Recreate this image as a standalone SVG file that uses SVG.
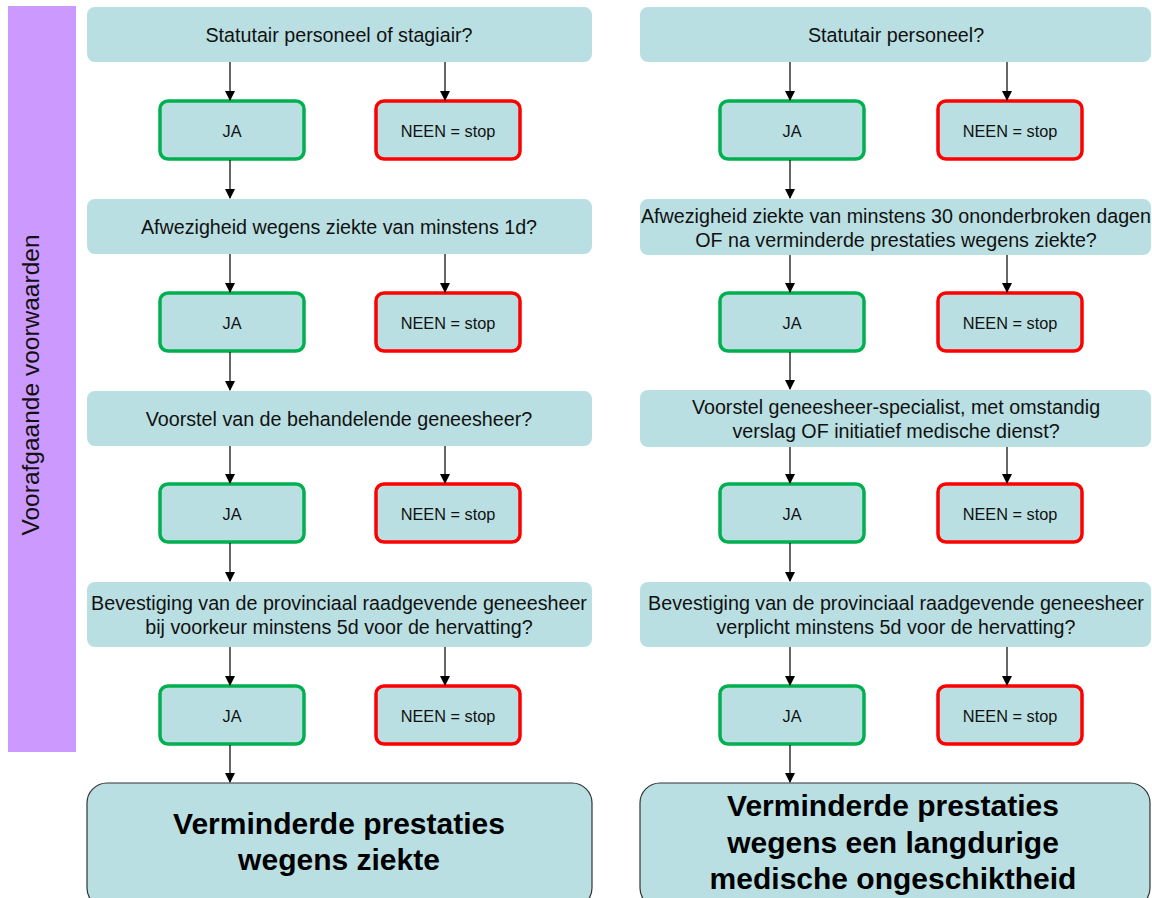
<svg xmlns="http://www.w3.org/2000/svg" width="1152" height="898" viewBox="0 0 1152 898">
<style>
.q{fill:#b9dfe2;}
.ja{fill:#b9dfe2;stroke:#00b050;stroke-width:3.5;}
.nee{fill:#b9dfe2;stroke:#ff0000;stroke-width:3.5;}
.fin{fill:#b9dfe2;stroke:#333;stroke-width:1.2;}
text{font-family:"Liberation Sans",Arial,sans-serif;fill:#111;text-anchor:middle;}
.tq{font-size:19.7px;}
.ts{font-size:16.3px;}
.tf{font-size:30px;font-weight:bold;fill:#000;}
.tv{font-size:24.5px;}
.c line{stroke:#000;stroke-width:1.2;marker-end:url(#ah);}
</style>
<defs>
<marker id="ah" markerWidth="10" markerHeight="10" refX="9" refY="5" orient="auto" markerUnits="userSpaceOnUse">
<path d="M0,0 L10,5 L0,10 Z" fill="#000"/>
</marker>
</defs>
<rect width="1152" height="898" fill="#fff"/>
<g id="side">
<rect x="8" y="6" width="68" height="746" fill="#cc99ff"/>
<text class="tv" transform="translate(30,385) rotate(-90)" dy="0.35em">Voorafgaande voorwaarden</text>
</g>

<!-- left column -->
<g id="L-q1"><rect class="q" x="87" y="7" width="505" height="55" rx="8"/><text class="tq" x="339" y="42">Statutair personeel of stagiair?</text></g>
<g id="L-ja1"><rect class="ja" x="160" y="101" width="144" height="58" rx="8"/><text class="ts" x="232" y="137">JA</text></g>
<g id="L-nee1"><rect class="nee" x="376" y="101" width="144" height="58" rx="8"/><text class="ts" x="448" y="137">NEEN = stop</text></g>
<g id="L-q2"><rect class="q" x="87" y="199" width="505" height="55" rx="8"/><text class="tq" x="339" y="234">Afwezigheid wegens ziekte van minstens 1d?</text></g>
<g id="L-ja2"><rect class="ja" x="160" y="293" width="144" height="58" rx="8"/><text class="ts" x="232" y="329">JA</text></g>
<g id="L-nee2"><rect class="nee" x="376" y="293" width="144" height="58" rx="8"/><text class="ts" x="448" y="329">NEEN = stop</text></g>
<g id="L-q3"><rect class="q" x="87" y="391" width="505" height="55" rx="8"/><text class="tq" x="339" y="426">Voorstel van de behandelende geneesheer?</text></g>
<g id="L-ja3"><rect class="ja" x="160" y="484" width="144" height="58" rx="8"/><text class="ts" x="232" y="520">JA</text></g>
<g id="L-nee3"><rect class="nee" x="376" y="484" width="144" height="58" rx="8"/><text class="ts" x="448" y="520">NEEN = stop</text></g>
<g id="L-q4"><rect class="q" x="87" y="582" width="505" height="65" rx="8"/><text class="tq" x="339" y="610">Bevestiging van de provinciaal raadgevende geneesheer</text><text class="tq" x="339" y="634">bij voorkeur minstens 5d voor de hervatting?</text></g>
<g id="L-ja4"><rect class="ja" x="160" y="686" width="144" height="58" rx="8"/><text class="ts" x="232" y="722">JA</text></g>
<g id="L-nee4"><rect class="nee" x="376" y="686" width="144" height="58" rx="8"/><text class="ts" x="448" y="722">NEEN = stop</text></g>
<g id="L-final"><rect class="fin" x="87" y="783" width="505" height="125" rx="20"/><text class="tf" x="339" y="834">Verminderde prestaties</text><text class="tf" x="339" y="870">wegens ziekte</text></g>

<!-- right column -->
<g id="R-q1"><rect class="q" x="640" y="7" width="511" height="55" rx="8"/><text class="tq" x="896" y="42">Statutair personeel?</text></g>
<g id="R-ja1"><rect class="ja" x="720" y="101" width="144" height="58" rx="8"/><text class="ts" x="792" y="137">JA</text></g>
<g id="R-nee1"><rect class="nee" x="938" y="101" width="144" height="58" rx="8"/><text class="ts" x="1010" y="137">NEEN = stop</text></g>
<g id="R-q2"><rect class="q" x="640" y="199" width="511" height="56" rx="8"/><text class="tq" x="896" y="223">Afwezigheid ziekte van minstens 30 ononderbroken dagen</text><text class="tq" x="896" y="247">OF na verminderde prestaties wegens ziekte?</text></g>
<g id="R-ja2"><rect class="ja" x="720" y="293" width="144" height="58" rx="8"/><text class="ts" x="792" y="329">JA</text></g>
<g id="R-nee2"><rect class="nee" x="938" y="293" width="144" height="58" rx="8"/><text class="ts" x="1010" y="329">NEEN = stop</text></g>
<g id="R-q3"><rect class="q" x="640" y="390" width="511" height="57" rx="8"/><text class="tq" x="896" y="414">Voorstel geneesheer-specialist, met omstandig</text><text class="tq" x="896" y="438">verslag OF initiatief medische dienst?</text></g>
<g id="R-ja3"><rect class="ja" x="720" y="484" width="144" height="58" rx="8"/><text class="ts" x="792" y="520">JA</text></g>
<g id="R-nee3"><rect class="nee" x="938" y="484" width="144" height="58" rx="8"/><text class="ts" x="1010" y="520">NEEN = stop</text></g>
<g id="R-q4"><rect class="q" x="640" y="582" width="511" height="65" rx="8"/><text class="tq" x="896" y="610">Bevestiging van de provinciaal raadgevende geneesheer</text><text class="tq" x="896" y="634">verplicht minstens 5d voor de hervatting?</text></g>
<g id="R-ja4"><rect class="ja" x="720" y="686" width="144" height="58" rx="8"/><text class="ts" x="792" y="722">JA</text></g>
<g id="R-nee4"><rect class="nee" x="938" y="686" width="144" height="58" rx="8"/><text class="ts" x="1010" y="722">NEEN = stop</text></g>
<g id="R-final"><rect class="fin" x="640" y="783" width="510" height="125" rx="20"/><text class="tf" x="893" y="816">Verminderde prestaties</text><text class="tf" x="893" y="853">wegens een langdurige</text><text class="tf" x="893" y="889">medische ongeschiktheid</text></g>

<g id="connectors" class="c">
<line x1="230" y1="62" x2="230" y2="100"/>
<line x1="445" y1="62" x2="445" y2="100"/>
<line x1="230" y1="160" x2="230" y2="198"/>
<line x1="230" y1="254" x2="230" y2="292"/>
<line x1="445" y1="254" x2="445" y2="292"/>
<line x1="230" y1="352" x2="230" y2="390"/>
<line x1="230" y1="446" x2="230" y2="483"/>
<line x1="445" y1="446" x2="445" y2="483"/>
<line x1="230" y1="543" x2="230" y2="581"/>
<line x1="230" y1="647" x2="230" y2="685"/>
<line x1="445" y1="647" x2="445" y2="685"/>
<line x1="230" y1="745" x2="230" y2="782"/>
<line x1="790" y1="62" x2="790" y2="100"/>
<line x1="1007" y1="62" x2="1007" y2="100"/>
<line x1="790" y1="160" x2="790" y2="198"/>
<line x1="790" y1="255" x2="790" y2="292"/>
<line x1="1007" y1="255" x2="1007" y2="292"/>
<line x1="790" y1="352" x2="790" y2="389"/>
<line x1="790" y1="447" x2="790" y2="483"/>
<line x1="1007" y1="447" x2="1007" y2="483"/>
<line x1="790" y1="543" x2="790" y2="581"/>
<line x1="790" y1="647" x2="790" y2="685"/>
<line x1="1007" y1="647" x2="1007" y2="685"/>
<line x1="790" y1="745" x2="790" y2="782"/>
</g>
</svg>
